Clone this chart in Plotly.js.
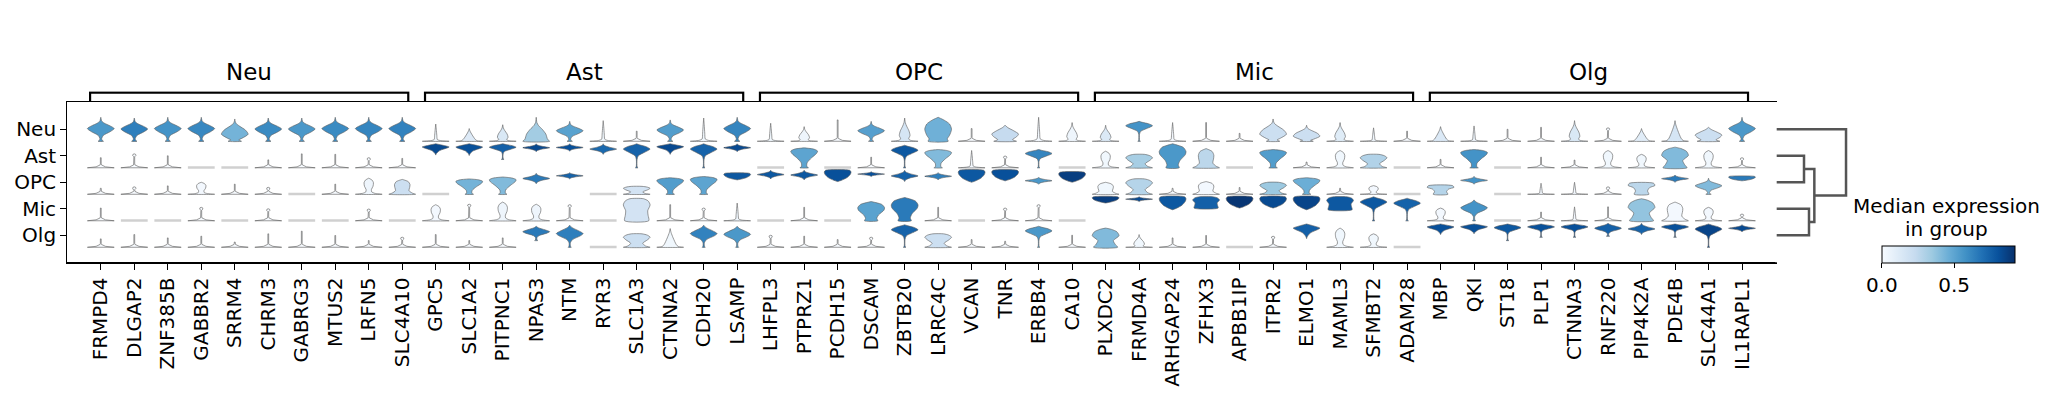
<!DOCTYPE html>
<html><head><meta charset="utf-8">
<script src="https://cdn.plot.ly/plotly-3.0.1.min.js"></script>
<style>body{margin:0;background:#fff}#chart{width:2056px;height:399px}</style>
</head><body><div id="chart"></div>
<script>
// ---------------- DATA ----------------
const genes = ["FRMPD4","DLGAP2","ZNF385B","GABBR2","SRRM4","CHRM3","GABRG3","MTUS2","LRFN5","SLC4A10",
 "GPC5","SLC1A2","PITPNC1","NPAS3","NTM","RYR3","SLC1A3","CTNNA2","CDH20","LSAMP",
 "LHFPL3","PTPRZ1","PCDH15","DSCAM","ZBTB20","LRRC4C","VCAN","TNR","ERBB4","CA10",
 "PLXDC2","FRMD4A","ARHGAP24","ZFHX3","APBB1IP","ITPR2","ELMO1","MAML3","SFMBT2","ADAM28",
 "MBP","QKI","ST18","PLP1","CTNNA3","RNF220","PIP4K2A","PDE4B","SLC44A1","IL1RAPL1"];
const groupNames = ["Neu","Ast","OPC","Mic","Olg"];
const groupStart = [0,10,20,30,40];
const groupEnd = [9,19,29,39,49];
const rowLabels = ["Neu","Ast","OPC","Mic","Olg"];

// violin shape class per gene (row-wise), extent (lo..hi, fraction of row), median expression
const codesNeu = "DDDDODDDDD"+"NAFLDNSDND"+"NFSDFGSMNF"+"FTNSSOOFNS"+"ANSSFQAAMD";
const loNeu = [0,0,0,0,0,0,0,0,0,0, 0,0,0,0,0,0,0,0,0,0, 0,0,0,0,0,0,0,0,0,0, 0,0,0,0,0,0,0,0,0,0, 0,0,0,0,0,0,0,0,0,0];
const hiNeu = [1,0.97,1,1,0.93,0.97,0.97,1,1,1, 0.72,0.53,0.69,1,0.83,0.86,0.42,0.89,0.97,1, 0.75,0.61,0.89,0.83,0.97,1,0.53,0.67,1,0.78, 0.67,0.83,0.78,0.78,0.33,0.93,0.67,0.78,0.56,0.42, 0.61,0.64,0.5,0.58,0.86,0.56,0.53,0.86,0.58,1];
const medNeu = [0.55,0.64,0.57,0.61,0.44,0.6,0.55,0.6,0.62,0.63, 0.03,0.12,0.14,0.33,0.51,0.03,0,0.53,0.03,0.62, 0.03,0.04,0,0.52,0.16,0.45,0,0.23,0.02,0.04, 0.13,0.57,0.02,0,0,0.2,0.2,0.11,0.03,0, 0.13,0.04,0,0,0.14,0.02,0.1,0.16,0.2,0.55];

const codesAst = "SQSZZSSSQS"+"VVTEEETVTE"+"ZWZSTWNQTZ"+"HCPBZWSHCZ"+"SWZSSHHKHQ";
const loAst = [0,0,0,0,0,0,0,0,0,0, 0.53,0.51,0.35,0.67,0.69,0.56,0,0.56,0,0.67, 0,0,0,0,0,0,0,0,0,0, 0,0,0,0,0,0,0,0,0,0, 0,0,0,0,0,0,0,0,0,0];
const hiAst = [0.42,0.58,0.5,0,0,0.33,0.58,0.56,0.42,0.39, 1,1,1,1,1,1,1,1,1,1, 0,0.83,0,0.44,0.94,0.76,0.72,0.49,0.76,0, 0.69,0.56,1,0.8,0,0.76,0.24,0.72,0.56,0, 0.35,0.76,0,0.44,0.32,0.72,0.56,0.86,0.72,0.42];
const medAst = [0,0,0,0,0,0,0,0,0,0, 0.83,0.81,0.75,0.83,0.81,0.72,0.74,0.83,0.74,0.83, 0,0.5,0,0,0.78,0.41,0.02,0,0.62,0, 0.03,0.32,0.55,0.26,0,0.53,0,0.03,0.29,0, 0,0.57,0,0,0,0.03,0.03,0.41,0.03,0];

const codesOPC = "SQSHSQZSHB"+"ZWWEEZCWWU"+"EEUEEEUUEU"+"BCSBSCWSHZ"+"XEZNNQXEDU";
const loOPC = [0,0,0,0,0,0,0,0,0,0, 0,0,0,0.44,0.64,0,0,0,0,0.6, 0.64,0.6,0.53,0.74,0.53,0.6,0.5,0.56,0.42,0.5, 0,0,0,0,0,0,0,0,0,0, 0,0.42,0,0,0,0,0,0.5,0,0.56];
const hiOPC = [0.25,0.31,0.35,0.5,0.42,0.29,0,0.42,0.67,0.62, 0,0.64,0.72,0.875,0.9,0,0.33,0.69,0.74,0.875, 1,1,1,0.94,1,0.9,1,1,0.71,0.92, 0.5,0.64,0.25,0.53,0.28,0.5,0.69,0.25,0.36,0, 0.36,0.74,0,0.46,0.5,0.31,0.46,0.8,0.67,0.75];
const medOPC = [0,0,0,0.02,0,0,0,0,0.04,0.2, 0,0.44,0.41,0.66,0.74,0,0.17,0.53,0.5,0.78, 0.78,0.78,0.81,0.81,0.74,0.64,0.78,0.81,0.55,0.87, 0.03,0.28,0,0.02,0,0.35,0.46,0,0.02,0, 0.28,0.57,0,0.02,0.02,0,0.26,0.66,0.41,0.66];

const codesMic = "SZZQZQZZQZ"+"HQHHQZRSQN"+"ZSZPPSZQQZ"+"UEURUUURTT"+"HYZSNSKBHQ";
const loMic = [0,0,0,0,0,0,0,0,0,0, 0,0,0,0,0,0,0,0,0,0, 0,0,0,0,0,0,0,0,0,0, 0.74,0.8,0.46,0.53,0.53,0.53,0.46,0.46,0,0, 0,0,0,0,0,0,0,0,0,0];
const hiMic = [0.53,0,0,0.56,0,0.5,0,0,0.49,0, 0.67,0.69,0.78,0.69,0.67,0,0.92,0.67,0.53,0.74, 0,0.56,0,0.8,0.97,0.56,0,0.53,0.67,0, 1,1,1,1,1,1,1,1,1,0.94, 0.53,0.87,0,0.36,0.58,0.58,0.92,0.78,0.56,0.28];
const medMic = [0,0,0,0,0,0,0,0,0,0, 0.02,0,0.04,0.04,0,0,0.17,0,0,0.03, 0,0,0,0.51,0.66,0,0,0,0,0, 0.87,0.83,0.78,0.75,0.9,0.83,0.85,0.78,0.78,0.74, 0.02,0.57,0,0,0.02,0,0.37,0.02,0.02,0];

const codesOlg = "SSSSSSSSSQ"+"SSSYYZCAYY"+"QSSQTCSSTS"+"KFSSZQVHHZ"+"VVTTTYETTE";
const loOlg = [0,0,0,0,0,0,0,0,0,0, 0,0,0,0.28,0,0,0,0,0,0, 0,0,0,0,0,0,0,0,0,0, 0,0,0,0,0,0,0.36,0,0,0, 0.53,0.56,0.28,0.42,0.42,0.46,0.53,0.42,0,0.64];
const hiOlg = [0.35,0.53,0.39,0.46,0.22,0.56,0.67,0.49,0.28,0.42, 0.53,0.28,0.39,0.875,0.92,0,0.56,0.78,0.92,0.875, 0.5,0.46,0.32,0.42,0.94,0.56,0.32,0.25,0.875,0.5, 0.8,0.53,0.39,0.49,0,0.46,0.97,0.8,0.56,0, 0.97,0.97,0.97,0.97,0.97,1,1,0.97,0.97,0.94];
const medOlg = [0,0,0,0,0,0,0,0,0,0, 0,0,0,0.66,0.64,0,0.2,0.03,0.63,0.55, 0,0,0,0,0.74,0.2,0,0,0.55,0, 0.41,0.03,0,0,0,0,0.75,0.03,0.03,0, 0.81,0.81,0.78,0.81,0.81,0.75,0.74,0.81,0.85,0.83];

// dendrogram (leaf order Neu, Ast, OPC, Mic, Olg) merge heights
const dendroAstOPC = 0.394;
const dendroMicOlg = 0.466;
const dendroAOMO = 0.543;
const dendroRoot = 1.0;

const colorMax = 0.92;

// ---------------- SHAPE PROFILES (s along extent, relative half-width) ----------------
const PROTO = {
 D:[[0,0.2],[0.04,0.1],[0.12,0.07],[0.25,0.2],[0.4,0.7],[0.53,1],[0.64,0.7],[0.76,0.25],[0.85,0.06],[0.92,0.03],[1,0]],
 O:[[0,0.5],[0.06,0.3],[0.14,0.55],[0.32,1],[0.5,0.8],[0.68,0.35],[0.8,0.1],[0.9,0.03],[1,0]],
 F:[[0,1],[0.04,0.45],[0.1,0.3],[0.25,0.4],[0.45,0.32],[0.65,0.15],[0.8,0.05],[1,0]],
 N:[[0,1],[0.04,0.35],[0.1,0.12],[0.35,0.08],[0.7,0.04],[1,0]],
 A:[[0,1],[0.04,0.6],[0.15,0.45],[0.5,0.22],[0.8,0.06],[1,0]],
 L:[[0,1],[0.08,0.85],[0.3,0.72],[0.5,0.45],[0.65,0.18],[0.78,0.05],[1,0]],
 G:[[0,0.75],[0.1,0.68],[0.25,0.85],[0.5,1],[0.72,0.85],[0.88,0.45],[1,0]],
 M:[[0,0.85],[0.1,0.55],[0.28,0.85],[0.45,1],[0.65,0.65],[0.85,0.2],[1,0]],
 T:[[0,0.1],[0.03,0.04],[0.35,0.03],[0.5,0.12],[0.65,0.6],[0.78,1],[0.88,0.7],[0.95,0.25],[1,0]],
 Y:[[0,0.12],[0.04,0.06],[0.2,0.05],[0.35,0.22],[0.52,0.8],[0.62,1],[0.75,0.65],[0.9,0.15],[1,0]],
 E:[[0,0],[0.15,0.08],[0.32,0.4],[0.5,1],[0.68,0.45],[0.85,0.08],[1,0]],
 V:[[0,0],[0.15,0.06],[0.4,0.3],[0.65,0.9],[0.72,1],[0.85,0.6],[1,0]],
 U:[[0,0],[0.12,0.3],[0.35,0.7],[0.65,0.95],[0.85,1],[1,0.9]],
 W:[[0,0.32],[0.06,0.2],[0.25,0.22],[0.5,0.55],[0.72,0.92],[0.84,1],[0.94,0.7],[1,0]],
 P:[[0,0.5],[0.12,0.42],[0.3,0.55],[0.55,0.95],[0.68,1],[0.85,0.8],[1,0]],
 B:[[0,1],[0.08,0.75],[0.25,0.5],[0.45,0.55],[0.65,0.58],[0.85,0.45],[1,0]],
 H:[[0,1],[0.06,0.45],[0.15,0.22],[0.3,0.2],[0.5,0.32],[0.72,0.35],[0.88,0.25],[1,0]],
 C:[[0,1],[0.1,0.65],[0.3,0.45],[0.55,0.8],[0.75,1],[0.9,0.8],[1,0.4]],
 K:[[0,0.9],[0.15,0.72],[0.35,0.58],[0.6,1],[0.8,0.85],[0.93,0.45],[1,0]],
 R:[[0,0.9],[0.25,0.85],[0.45,0.82],[0.72,1],[0.9,0.85],[1,0.5]],
 X:[[0,0.55],[0.3,0.45],[0.6,0.6],[0.8,1],[1,0.9]]
};

const BLUES = [[0,'#f7fbff'],[0.125,'#deebf7'],[0.25,'#c6dbef'],[0.375,'#9ecae1'],[0.5,'#6baed6'],[0.625,'#4292c6'],[0.75,'#2171b5'],[0.875,'#08519c'],[1,'#08306b']];
function hex2rgb(h){return [parseInt(h.slice(1,3),16),parseInt(h.slice(3,5),16),parseInt(h.slice(5,7),16)];}
function blues(v){
  const t = Math.max(0, Math.min(1, v/colorMax));
  for (let k=1;k<BLUES.length;k++){
    if (t <= BLUES[k][0] + 1e-9){
      const a=BLUES[k-1], b=BLUES[k], u=(t-a[0])/(b[0]-a[0]);
      const ca=hex2rgb(a[1]), cb=hex2rgb(b[1]);
      return 'rgb('+ca.map((c,j)=>Math.round(c+(cb[j]-c)*u)).join(',')+')';
    }
  }
  return BLUES[BLUES.length-1][1];
}

function profile(code, lo, hi){
  if (code==='S') return [[0,1],[0.04,0.35],[0.12,0.05],[0.16,0.03],[hi,0.03]];
  if (code==='Q') return [[0,1],[0.04,0.35],[0.12,0.05],[0.16,0.03],[hi-0.12,0.03],[hi-0.07,0.12],[hi-0.02,0.1],[hi,0]];
  return PROTO[code].map(([s,w])=>[lo+s*(hi-lo), w]);
}

const HW = 0.4, ROWH = 0.906, OFF = 0.453;
const rowsData = [
  [codesNeu, loNeu, hiNeu, medNeu],
  [codesAst, loAst, hiAst, medAst],
  [codesOPC, loOPC, hiOPC, medOPC],
  [codesMic, loMic, hiMic, medMic],
  [codesOlg, loOlg, hiOlg, medOlg]
];

const traces = [];
const flatX = [], flatY = [];
const cbX = [], cbY = [], cbC = [];
rowsData.forEach((rd, ri)=>{
  const [codes, lo, hi, med] = rd;
  const ry = 4 - ri;
  const base = ry - OFF;
  for (let i=0;i<genes.length;i++){
    const c = codes[i];
    cbX.push(i); cbY.push(ry); cbC.push(med[i]);
    if (c==='Z'){
      flatX.push(i-HW, i+HW, null); flatY.push(base+0.01, base+0.01, null);
      continue;
    }
    const prof = profile(c, lo[i], hi[i]);
    const xs=[], ys=[];
    prof.forEach(([f,w])=>{xs.push(i+w*HW); ys.push(base+f*ROWH);});
    prof.slice().reverse().forEach(([f,w])=>{xs.push(i-w*HW); ys.push(base+f*ROWH);});
    xs.push(xs[0]); ys.push(ys[0]);
    const spiky = (c==='S'||c==='Q');
    traces.push({type:'scatter', mode:'lines', x:xs, y:ys, fill:'toself', fillcolor:blues(med[i]),
      line:{color:'rgba(95,95,95,0.9)', width:0.7, shape: spiky?'linear':'spline', smoothing:0.7},
      hoverinfo:'skip', showlegend:false});
  }
});
traces.push({type:'scatter', mode:'lines', x:flatX, y:flatY, line:{color:'#d0d0d0', width:2.5}, hoverinfo:'skip', showlegend:false});

// colorbar carrier (invisible markers coloured by the medians)
traces.push({type:'scatter', mode:'markers', x:cbX, y:cbY, hoverinfo:'skip', showlegend:false,
  marker:{size:1, opacity:0, color:cbC, cmin:0, cmax:colorMax, colorscale:BLUES, showscale:true,
    colorbar:{orientation:'h', thickness:17, thicknessmode:'pixels', len:133, lenmode:'pixels',
      x:1948.3/2056, xanchor:'center', y:1-245.7/399, yanchor:'top', xpad:0, ypad:0,
      outlinewidth:1, outlinecolor:'black', tickvals:[0,0.5], ticktext:['0.0','0.5'],
      ticks:'outside', ticklen:5, tickcolor:'black', tickfont:{size:20, family:'DejaVu Sans', color:'black'}}}});

// group brackets
groupNames.forEach((g,k)=>{
  const a = groupStart[k]-0.32, b = groupEnd[k]+0.18;
  traces.push({type:'scatter', mode:'lines', xaxis:'x3', yaxis:'y3', x:[a,a,b,b], y:[0,1,1,0],
    line:{color:'black', width:2.2}, hoverinfo:'skip', showlegend:false});
});

// dendrogram
const dend = [
  {x:[0,dendroAstOPC,dendroAstOPC,0], y:[3,3,2,2]},
  {x:[0,dendroMicOlg,dendroMicOlg,0], y:[1,1,0,0]},
  {x:[dendroAstOPC,dendroAOMO,dendroAOMO,dendroMicOlg], y:[2.5,2.5,0.5,0.5]},
  {x:[0,dendroRoot,dendroRoot,dendroAOMO], y:[4,4,1.5,1.5]}
];
dend.forEach(d=>traces.push({type:'scatter', mode:'lines', xaxis:'x2', yaxis:'y4', x:d.x, y:d.y,
  line:{color:'#555555', width:2.5}, hoverinfo:'skip', showlegend:false}));

const yDom = [1-262.3/399, 1-102/399];
const yRange = [-1.02, 5.03];
const annotations = groupNames.map((g,k)=>({text:g, xref:'x', yref:'paper',
  x:(groupStart[k]-0.32+groupEnd[k]+0.18)/2, y:1-72/399, xanchor:'center', yanchor:'middle',
  showarrow:false, font:{size:23, color:'black'}}));
annotations.push({text:'Median expression', xref:'paper', yref:'paper', x:1946.7/2056, y:1-206/399,
  xanchor:'center', yanchor:'middle', showarrow:false, font:{size:20, color:'black'}});
annotations.push({text:'in group', xref:'paper', yref:'paper', x:1946.7/2056, y:1-229/399,
  xanchor:'center', yanchor:'middle', showarrow:false, font:{size:20, color:'black'}});

const layout = {
  width:2056, height:399, margin:{l:0,r:0,t:0,b:0},
  paper_bgcolor:'white', plot_bgcolor:'white', showlegend:false,
  font:{family:'DejaVu Sans', size:20, color:'black'},
  xaxis:{domain:[67.3/2056, 1775.5/2056], range:[-1,50], tickvals:genes.map((g,i)=>i), ticktext:genes,
    tickangle:-90, ticks:'outside', ticklen:6, tickwidth:1, tickcolor:'black', showline:true, mirror:true,
    linecolor:'black', linewidth:1.2, showgrid:false, zeroline:false, anchor:'y', tickfont:{size:20}},
  yaxis:{domain:yDom, range:yRange, tickvals:[4,3,2,1,0], ticktext:rowLabels, ticks:'outside', ticklen:6,
    tickwidth:1, tickcolor:'black', showline:true, mirror:true, linecolor:'black', linewidth:1.2,
    showgrid:false, zeroline:false, anchor:'x', tickfont:{size:20}},
  xaxis2:{domain:[1775.3/2056, 1849.5/2056], range:[-0.02,1.05], visible:false, anchor:'y4'},
  yaxis4:{domain:yDom, range:yRange, visible:false, anchor:'x2'},
  xaxis3:{domain:[67.3/2056, 1775.5/2056], range:[-1,50], visible:false, anchor:'y3'},
  yaxis3:{domain:[1-102/399, 1-91.3/399], range:[0,1.15], visible:false, anchor:'x3'},
  annotations:annotations
};
Plotly.newPlot('chart', traces, layout, {staticPlot:true, displayModeBar:false});
</script>
</body></html>
